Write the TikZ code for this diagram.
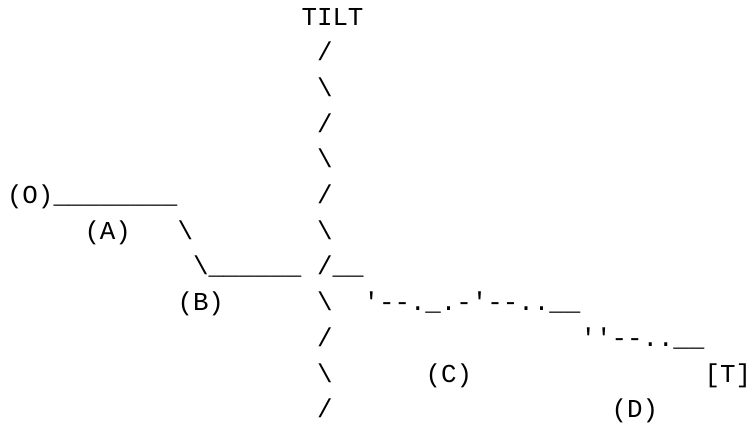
\documentclass[tikz,border=0pt]{standalone}
\usepackage{fontspec}
\setmonofont{Liberation Mono}
\begin{document}
\begin{tikzpicture}[
  x={(15.5pt,0pt)}, y={(0pt,-35.7pt)},
  txt/.style={anchor=base west, inner sep=0pt, outer sep=0pt,
              font=\ttfamily\fontsize{25.83}{30}\selectfont, text=black}
]
\useasboundingbox (0pt,0pt) rectangle (754pt,-426pt);
\begin{scope}[shift={(7pt,-25pt)}]
  % title and the tilted axis
  \node[txt] (tilt) at (19,0) {TILT};
  \node[txt] (v1)  at (20,1)  {/};
  \node[txt] (v2)  at (20,2)  {\textbackslash};
  \node[txt] (v3)  at (20,3)  {/};
  \node[txt] (v4)  at (20,4)  {\textbackslash};
  \node[txt] (v5)  at (20,5)  {/};
  \node[txt] (v6)  at (20,6)  {\textbackslash};
  \node[txt] (v7)  at (20,7)  {/};
  \node[txt] (v8)  at (20,8)  {\textbackslash};
  \node[txt] (v9)  at (20,9)  {/};
  \node[txt] (v10) at (20,10) {\textbackslash};
  \node[txt] (v11) at (20,11) {/};
  % profile from (O) down to the axis
  \node[txt] (O)    at (0,5)  {(O)};
  \node[txt] (segA) at (3,5)  {\_\_\_\_\_\_\_\_};
  \node[txt] (A)    at (5,6)  {(A)};
  \node[txt] (dropA) at (11,6) {\textbackslash};
  \node[txt] (segB) at (12,7) {\textbackslash\_\_\_\_\_\_};
  \node[txt] (stub) at (21,7) {\_\_};
  \node[txt] (B)    at (11,8) {(B)};
  % profile beyond the axis towards [T]
  \node[txt] (trackC) at (23,8) {'--.\_.-'--..\_\_};
  \node[txt] (trackD) at (37,9) {''--..\_\_};
  \node[txt] (C) at (27,10) {(C)};
  \node[txt] (T) at (45,10) {[T]};
  \node[txt] (D) at (39,11) {(D)};
\end{scope}
\end{tikzpicture}
\end{document}
